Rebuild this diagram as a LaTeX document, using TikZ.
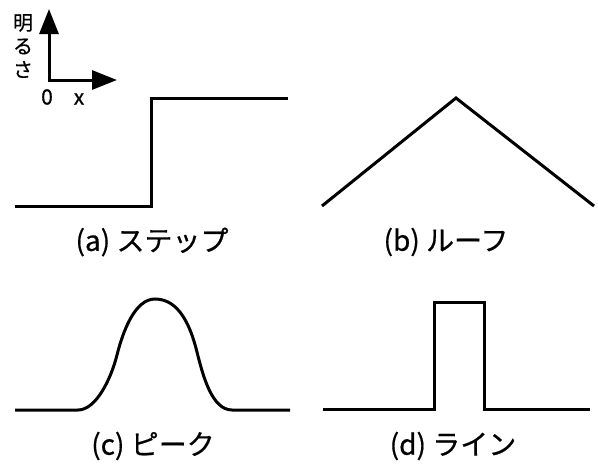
\documentclass[tikz,border=0pt]{standalone}
\usepackage{fontspec}
\setmainfont{Noto Sans CJK JP}[FakeBold=0.6]
\usetikzlibrary{arrows.meta}
\tikzset{
  >={Triangle[length=25pt,width=19pt]},
  every node/.style={inner sep=0pt,text=black},
  curve/.style={line width=3pt,line join=miter},
  axis/.style={<->,line width=3pt,line join=miter},
  caption/.style={font=\fontsize{28}{32}\selectfont},
  axislabel/.style={font=\fontsize{21}{23}\selectfont},
  ylabel/.style={font=\fontsize{20}{23.5}\selectfont,align=center},
}

\begin{document}
\begin{tikzpicture}[x=1pt,y=-1pt]
\useasboundingbox (0,0) rectangle (598,466);

% axes
\coordinate (o) at (49,80);
\coordinate (ytip) at (49,9);
\coordinate (xtip) at (117,80);
\draw[axis] (ytip) -- (o) -- (xtip);
\node[ylabel] (ylab) at (23,46) {明\\る\\さ};
\node[axislabel] (zero) at (47,97) {0};
\node[axislabel] (xlab) at (79,99) {x};

% (a) step
\draw[curve] (15,206) -- (151,206) -- (151,98) -- (288,98);
\node[caption] (capa) at (152,242) {(a) ステップ};

% (b) roof
\draw[curve] (322,206) -- (456,98) -- (594,206);
\node[caption] (capb) at (446,242) {(b) ルーフ};

% (c) peak
\draw[curve] (15,410) -- (78,410)
  .. controls (96,410) and (111,379) .. (117,355)
  .. controls (123,331) and (135,299) .. (155,299)
  .. controls (180,299) and (191,328) .. (197,352)
  .. controls (203,376) and (212,410) .. (232,410) -- (290,410);
\node[caption] (capc) at (153,446) {(c) ピーク};

% (d) line
\draw[curve] (323,409) -- (434,409) -- (434,302) -- (484,302) -- (484,409) -- (590,409);
\node[caption] (capd) at (453,446) {(d) ライン};

\end{tikzpicture}
\end{document}
